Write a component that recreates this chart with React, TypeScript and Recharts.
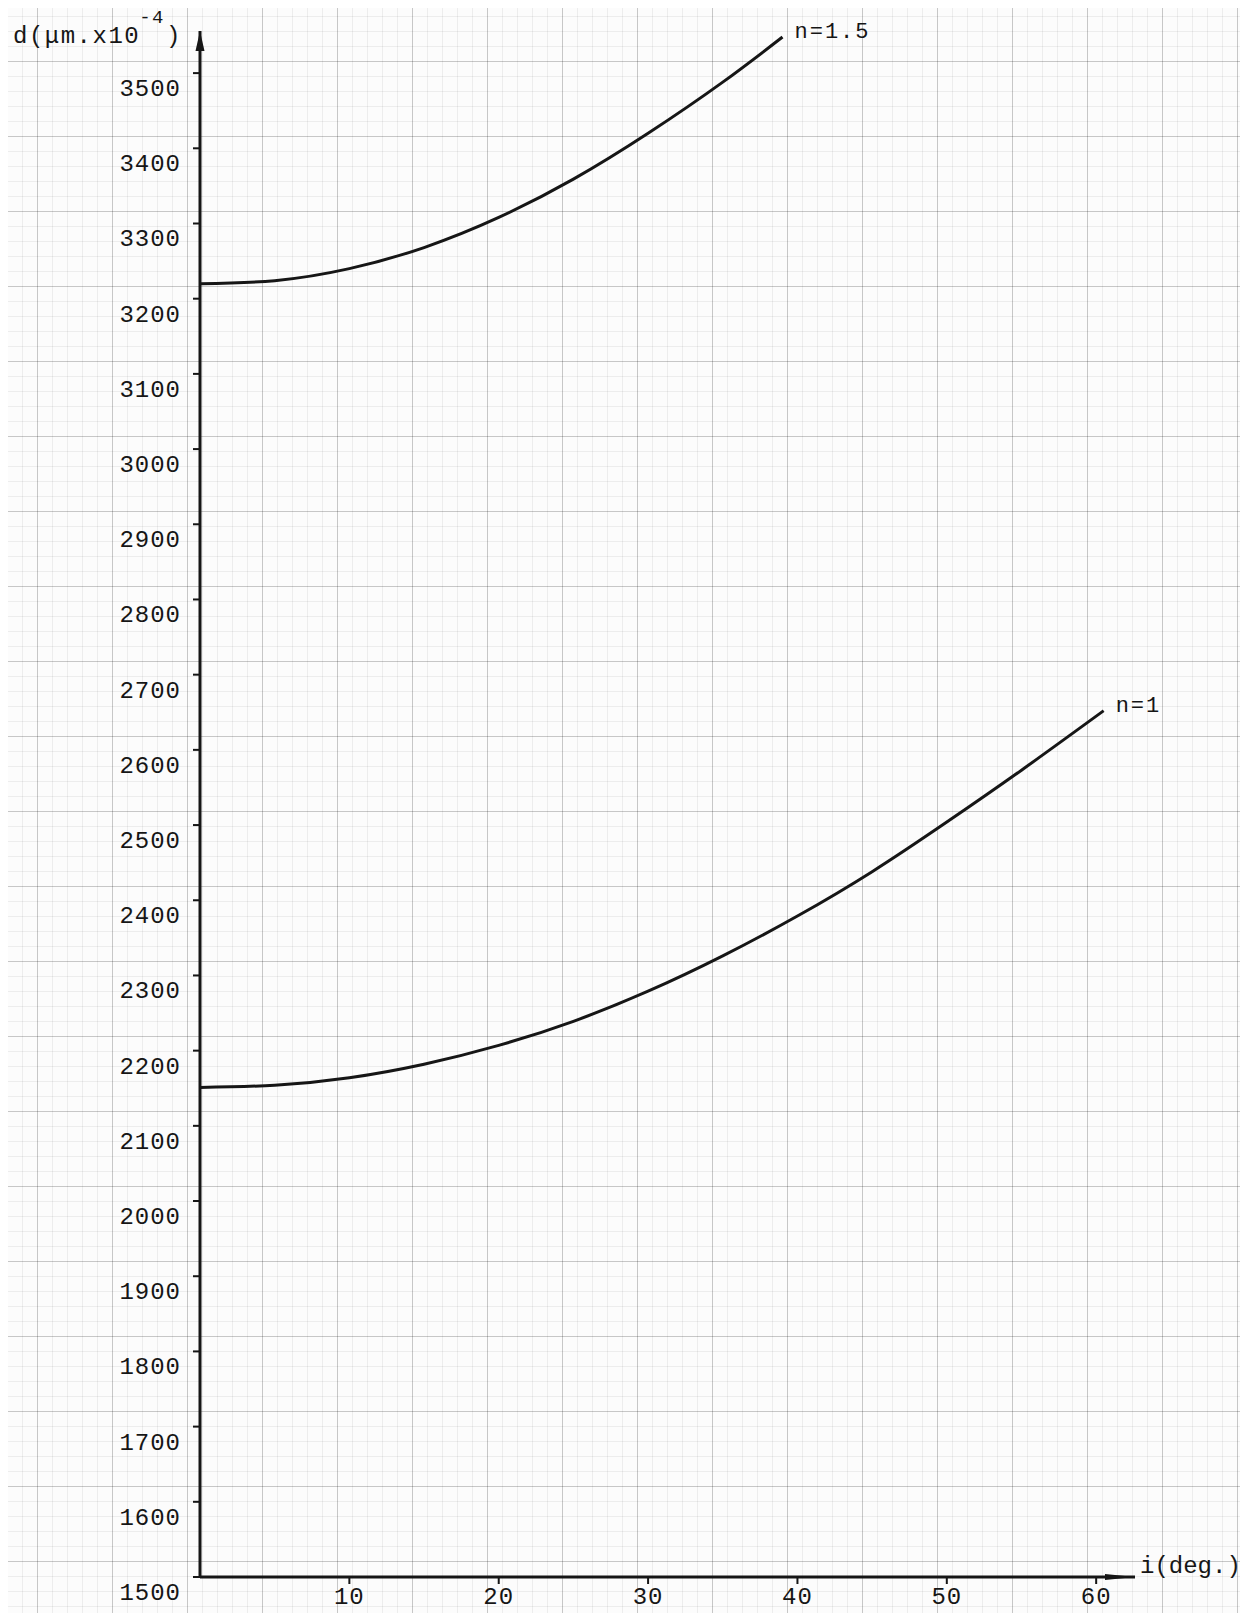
import React from 'react';
import { LineChart, Line, XAxis, YAxis, LabelList, Label } from 'recharts';

// i (deg.) vs d (um x10^-4)
const anglesN15 = [0, 5, 10, 15, 20, 25, 30, 35, 39];
const thicknessN15 = [3220, 3224, 3240, 3268, 3308, 3359, 3420, 3488, 3548];

const anglesN1 = [0, 5, 10, 15, 20, 25, 30, 35, 40, 45, 50, 55, 60.5];
const thicknessN1 = [2151, 2154, 2164, 2182, 2207, 2239, 2279, 2326, 2379, 2438, 2504, 2573, 2652];

const seriesNames = ['n=1.5', 'n=1'];

const xTicks = [10, 20, 30, 40, 50, 60];
const yTicks = [1500, 1600, 1700, 1800, 1900, 2000, 2100, 2200, 2300, 2400, 2500, 2600, 2700, 2800, 2900, 3000, 3100, 3200, 3300, 3400, 3500];

const xDomain = [0, 62.6];
const yDomain = [1500, 3556];

const INK = '#161616';
const FONT = '"Liberation Mono", "DejaVu Sans Mono", monospace';

const n15Data = anglesN15.map((i, k) => ({ i, d: thicknessN15[k] }));
const n1Data = anglesN1.map((i, k) => ({ i, d: thicknessN1[k] }));

const YTick = ({ x, y, payload }: any) => (
  <text x={x} y={y} dy={23} textAnchor="end" fontFamily={FONT} fontSize={24} letterSpacing={1} fill={INK}>
    {payload.value}
  </text>
);

const XTick = ({ x, y, payload }: any) => (
  <text x={x} y={y} dy={18} textAnchor="middle" fontFamily={FONT} fontSize={24} letterSpacing={1} fill={INK}>
    {payload.value}
  </text>
);

// name written just past the last point of a curve
const endLabel = (name: string, lastValue: number) => (props: any) => {
  const { x, y, value } = props;
  if (value !== lastValue) return null;
  return (
    <text x={x + 12} y={y + 1} fontFamily={FONT} fontSize={22} letterSpacing={2} fill={INK}>
      {name}
    </text>
  );
};

// d(um.x10^-4) with the exponent typed above the line
const YTitle = ({ viewBox }: any) => (
  <text x={viewBox.x - 107} y={viewBox.y + 12} fontFamily={FONT} fontSize={24} letterSpacing={1.5} fill={INK}>
    d(μm.x10
    <tspan dx={-1} dy={-20} fontSize={19}>-4</tspan>
    <tspan dx={1} dy={20}>)</tspan>
  </text>
);

const XTitle = ({ viewBox }: any) => (
  <text x={viewBox.x + viewBox.width + 5} y={viewBox.y - 4} fontFamily={FONT} fontSize={24} fill={INK}>
    i(deg.)
  </text>
);

const paperGrid = {
  backgroundColor: '#fcfcfc',
  backgroundImage: [
    'linear-gradient(to right, rgba(0,0,0,0.16) 1px, transparent 1px)',
    'linear-gradient(to bottom, rgba(0,0,0,0.16) 1px, transparent 1px)',
    'linear-gradient(to right, rgba(0,0,0,0.06) 1px, transparent 1px)',
    'linear-gradient(to bottom, rgba(0,0,0,0.06) 1px, transparent 1px)',
  ].join(', '),
  backgroundSize: '75px 75px, 75px 75px, 15px 15px, 15px 15px',
  backgroundPosition: '-38px -14px, -38px -14px, -38px -14px, -38px -14px',
};

export default function App() {
  return (
    <div style={{ margin: -8, width: 1248, height: 1621, ...paperGrid }}>
      <LineChart width={1248} height={1621} margin={{ top: 31, right: 113, bottom: 4, left: 120 }}>
        <defs>
          <marker id="arrowX" viewBox="0 0 30 10" refX="30" refY="5" markerWidth="30" markerHeight="10"
            markerUnits="userSpaceOnUse" orient="auto-start-reverse">
            <path d="M0,2 L30,5 L0,8 Z" fill={INK} />
          </marker>
          <marker id="arrowY" viewBox="0 0 20 10" refX="20" refY="5" markerWidth="20" markerHeight="10"
            markerUnits="userSpaceOnUse" orient="auto-start-reverse">
            <path d="M0,0.5 L20,5 L0,9.5 Z" fill={INK} />
          </marker>
        </defs>
        <XAxis
          dataKey="i"
          type="number"
          domain={xDomain}
          ticks={xTicks}
          allowDataOverflow
          height={40}
          tickSize={7}
          tickMargin={2}
          tick={<XTick />}
          tickLine={{ stroke: INK, strokeWidth: 2 }}
          axisLine={{ stroke: INK, strokeWidth: 3, markerEnd: 'url(#arrowX)' }}
        >
          <Label content={<XTitle />} />
        </XAxis>
        <YAxis
          dataKey="d"
          type="number"
          domain={yDomain}
          ticks={yTicks}
          allowDataOverflow
          width={80}
          tickSize={7}
          tickMargin={12}
          tick={<YTick />}
          tickLine={{ stroke: INK, strokeWidth: 2 }}
          axisLine={{ stroke: INK, strokeWidth: 3, markerStart: 'url(#arrowY)' }}
        >
          <Label content={<YTitle />} />
        </YAxis>
        <Line
          data={n15Data}
          dataKey="d"
          type="natural"
          stroke={INK}
          strokeWidth={3}
          dot={false}
          isAnimationActive={false}
        >
          <LabelList dataKey="d" content={endLabel(seriesNames[0], thicknessN15[thicknessN15.length - 1])} />
        </Line>
        <Line
          data={n1Data}
          dataKey="d"
          type="natural"
          stroke={INK}
          strokeWidth={3}
          dot={false}
          isAnimationActive={false}
        >
          <LabelList dataKey="d" content={endLabel(seriesNames[1], thicknessN1[thicknessN1.length - 1])} />
        </Line>
      </LineChart>
    </div>
  );
}
